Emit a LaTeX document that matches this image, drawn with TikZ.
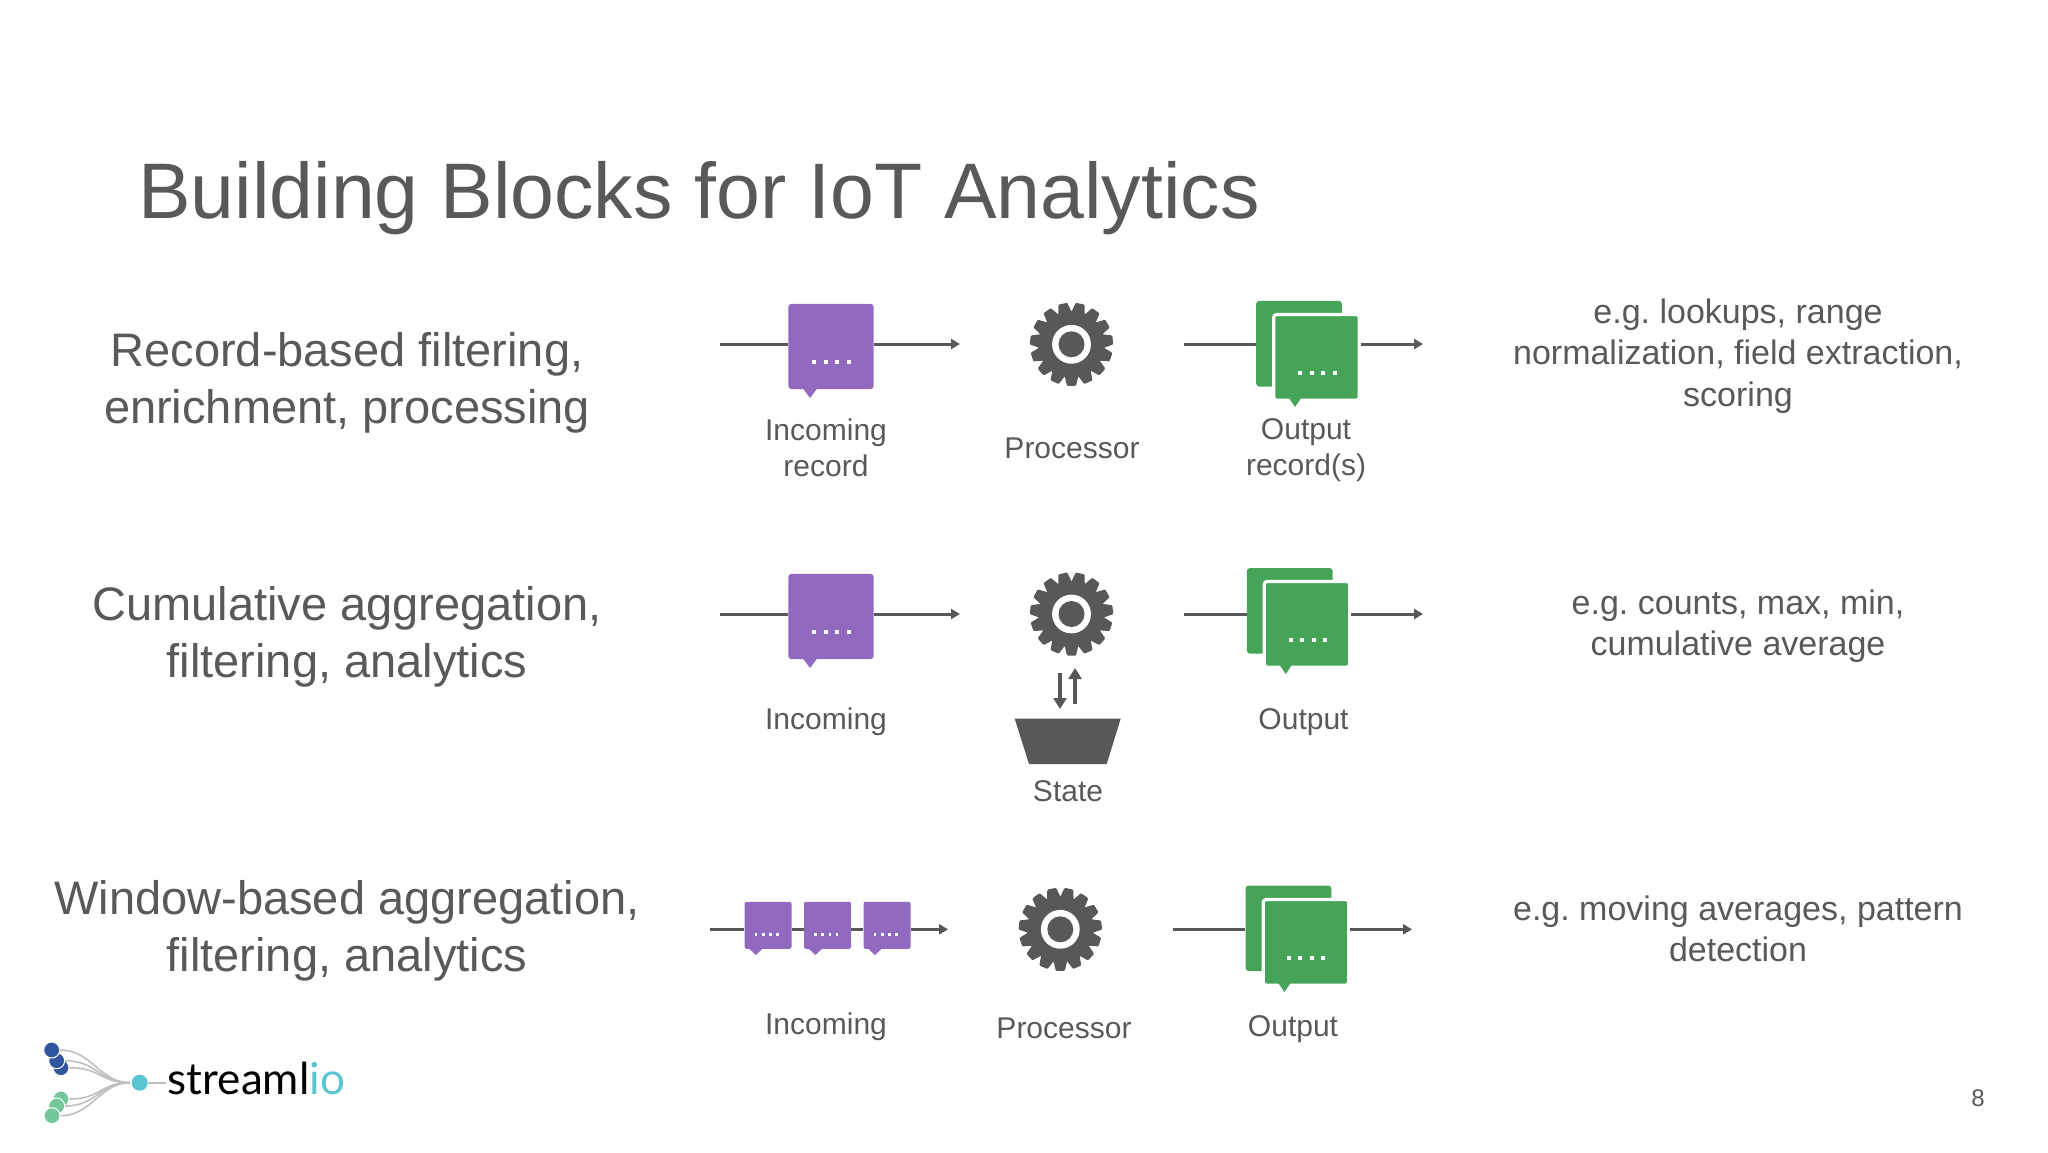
\documentclass[tikz,border=0pt]{standalone}
\usepackage{fontspec}
\setmainfont{Liberation Sans}
\newfontfamily\logofont{Lato}
\usetikzlibrary{arrows.meta,positioning,calc}
\definecolor{inkgrey}{HTML}{595959}
\definecolor{gearcol}{HTML}{58585A}
\definecolor{recpurple}{HTML}{9169C1}
\definecolor{outgreen}{HTML}{45A457}
\definecolor{lblue}{HTML}{2F569F}
\definecolor{lgreen}{HTML}{73C79B}
\definecolor{lteal}{HTML}{5BC5D3}
\tikzset{
  flow/.style={draw=gearcol,line width=1.5pt,-{Triangle[length=4.5pt,width=5pt]}},
  swap/.style={draw=gearcol,line width=1.7pt,-{Triangle[length=5.5pt,width=6.5pt]}},
  plain/.style={draw=gearcol,line width=1.5pt},
  record/.style={fill=recpurple,rounded corners=1.5pt,inner sep=0,minimum width=42.6pt,minimum height=42.6pt},
  smallrec/.style={fill=recpurple,rounded corners=1pt,inner sep=0,minimum width=23.5pt,minimum height=23.5pt},
  outrec/.style={fill=outgreen,rounded corners=1.5pt,inner sep=0,minimum width=42.8pt,minimum height=42.8pt},
  frontrec/.style={outrec,draw=white,line width=1.6pt},
  gearhub/.style={circle,fill=white,inner sep=0,minimum size=19.4pt},
  lbl/.style={text=inkgrey,align=center,font=\fontsize{15}{18}\selectfont},
  headline/.style={text=inkgrey,align=center,font=\fontsize{23.5}{28.4}\selectfont},
  note/.style={text=inkgrey,align=center,font=\frenchspacing\fontsize{17}{20.6}\selectfont},
  dot/.style={fill=white,inner sep=0,minimum size=2pt},
  logoball/.style={circle,draw=white,line width=.5pt,inner sep=0,minimum size=8pt},
  twig/.style={draw=black!25,line width=.8pt},
}
% tail under a record, dots inside it
\newcommand{\rectail}[4]{\fill[#4] (#1-7.5,#2) -- (#1,#3) -- (#1+7.5,#2) -- cycle;}
\newcommand{\recdots}[3]{\foreach \k in {0,1,2,3} \node[dot] (d#3\k) at (#1+\k*11.5,#2) {};}
% gear with its hub
\newcommand{\drawgear}[2]{%
  \foreach \a in {12,36,...,348}
    \fill[gearcol,rounded corners=.5pt,rotate around={\a:(#1,#2)}] (#1-7,#2-31) -- (#1-4.5,#2-41.5) -- (#1+4.5,#2-41.5) -- (#1+7,#2-31) -- cycle;
  \fill[gearcol] (#1,#2) circle[radius=16.6pt];
}

\begin{document}
\begin{tikzpicture}[x=.5pt,y=-.5pt]
\useasboundingbox (0,0) rectangle (2048,1152);

% Title
\node[text=inkgrey,anchor=base west,inner sep=0,font=\fontsize{39.4}{42}\selectfont] (title) at (138,218) {Building Blocks for IoT Analytics};

% Left column
\node[headline] (head1) at (347,382.5) {Record-based filtering,\\enrichment, processing};
\node[headline] (head2) at (347,636.5) {Cumulative aggregation,\\filtering, analytics};
\node[headline] (head3) at (347,930.5) {Window-based aggregation,\\filtering, analytics};

% Right column
\node[note] (note1) at (1738,356) {e.g. lookups, range\\normalization, field extraction,\\scoring};
\node[note] (note2) at (1738,626) {e.g. counts, max, min,\\cumulative average};
\node[note] (note3) at (1738,929) {e.g. moving averages, pattern\\detection};

% Row 1
\coordinate (in1) at (720,344);
\coordinate (out1) at (960,344);
\coordinate (in2) at (1184,344);
\coordinate (out2) at (1423,344);
\node[record] (rec1) at (831,346.5) {};
\rectail{810}{388}{398}{recpurple}
\recdots{814}{362}{a}
\draw[plain] (in1) -- (rec1.west |- in1);
\draw[flow] (rec1.east |- out1) -- (out1);
\drawgear{1071.5}{344.3}
\node[gearhub] (gear1) at (1071.5,344.3) {};
\fill[gearcol] (gear1) circle[radius=6.5pt];
\node[outrec] (back1) at (1299,343.7) {};
\draw[plain] (in2) -- (back1.west |- in2);
\node[frontrec] (front1) at (1316.5,357.3) {};
\rectail{1295}{396}{407}{outgreen}
\recdots{1300}{373}{b}
\draw[flow] (front1.east |- out2) -- (out2);
\node[lbl] (lab1) at (826,448) {Incoming\\record};
\node[lbl] (lab2) at (1072,448) {Processor};
\node[lbl] (lab3) at (1306,450.5) {Output\\record(s)};

% Row 2
\coordinate (in3) at (720,614);
\coordinate (out3) at (960,614);
\coordinate (in4) at (1184,614);
\coordinate (out4) at (1423,614);
\node[record] (rec2) at (831,616.5) {};
\rectail{810}{658}{668}{recpurple}
\recdots{814}{632}{c}
\draw[plain] (in3) -- (rec2.west |- in3);
\draw[flow] (rec2.east |- out3) -- (out3);
\drawgear{1071.5}{614}
\node[gearhub] (gear2) at (1071.5,614) {};
\fill[gearcol] (gear2) circle[radius=6.5pt];
\node[outrec] (back2) at (1289.7,610.8) {};
\draw[plain] (in4) -- (back2.west |- in4);
\node[frontrec] (front2) at (1307,624.3) {};
\rectail{1285.7}{663}{674}{outgreen}
\recdots{1290.7}{640}{e}
\draw[flow] (front2.east |- out4) -- (out4);
\coordinate (downa) at (1060,673);
\coordinate (downb) at (1060,709);
\coordinate (upa) at (1075,704);
\coordinate (upb) at (1075,668);
\draw[swap] (downa) -- (downb);
\draw[swap] (upa) -- (upb);
\fill[gearcol] (1014.7,718.7) -- (1120.7,718.7) -- (1106.7,764) -- (1029,764) -- cycle;
\node[lbl] (lab4) at (826,722) {Incoming};
\node[lbl] (lab5) at (1303.5,722) {Output};
\node[lbl] (lab6) at (1068,791.5) {State};

% Row 3
\coordinate (in5) at (710,929.3);
\coordinate (out5) at (948,929.3);
\coordinate (in6) at (1173,929.3);
\coordinate (out6) at (1412,929.3);
\node[smallrec] (sm1) at (768,925.3) {};
\node[smallrec] (sm2) at (827.5,925.3) {};
\node[smallrec] (sm3) at (887,925.3) {};
\draw[plain] (in5) -- (sm1.west |- in5) (sm1.east |- in5) -- (sm2.west |- in5) (sm2.east |- in5) -- (sm3.west |- in5);
\draw[flow] (sm3.east |- out5) -- (out5);
\foreach \x/\nm in {755.8/f,815.4/g,875/h} {
  \rectail{\x}{948}{955}{recpurple}
}
\foreach \x/\nm in {756/f,815.5/g,875/h}
  \foreach \k in {0,1,2,3} \node[dot,minimum size=1.3pt] (d\nm\k) at (\x+\k*7.2,934.7) {};
\drawgear{1060.3}{929.3}
\node[gearhub] (gear3) at (1060.3,929.3) {};
\fill[gearcol] (gear3) circle[radius=6.5pt];
\node[outrec] (back3) at (1288.5,928.3) {};
\draw[plain] (in6) -- (back3.west |- in6);
\node[frontrec] (front3) at (1306,942.3) {};
\rectail{1284.4}{981}{992}{outgreen}
\recdots{1288.5}{958}{i}
\draw[flow] (front3.east |- out6) -- (out6);
\node[lbl] (lab7) at (826,1026.5) {Incoming};
\node[lbl] (lab8) at (1064,1028) {Processor};
\node[lbl] (lab9) at (1293,1029.5) {Output};

% Logo
\coordinate (hub) at (130,1082.7);
\coordinate (logoend) at (166,1082.7);
\node[logoball,fill=lblue] (b3) at (61,1067.7) {};
\node[logoball,fill=lblue] (b2) at (56.7,1060.7) {};
\node[logoball,fill=lblue] (b1) at (51.7,1050) {};
\node[logoball,fill=lgreen] (g3) at (61,1099) {};
\node[logoball,fill=lgreen] (g2) at (56.7,1106) {};
\node[logoball,fill=lgreen] (g1) at (52,1115.7) {};
\foreach \n in {b1,b2,b3,g1,g2,g3}
  \draw[twig] (\n) .. controls ($(\n)+(40,0)$) and (100,1082.7) .. (hub);
\node[circle,fill=lteal,inner sep=0,minimum size=8pt] (tealball) at (139.7,1082.7) {};
\draw[twig] (tealball) -- (logoend);
\node[anchor=base west,inner sep=0,font=\logofont\fontsize{22}{25}\selectfont] (logotext) at (167.5,1094) {streaml\textcolor{lteal}{io}};

% Page number
\node[text=inkgrey,font=\fontsize{12}{14}\selectfont] (pagenum) at (1978,1098) {8};
\end{tikzpicture}
\end{document}
